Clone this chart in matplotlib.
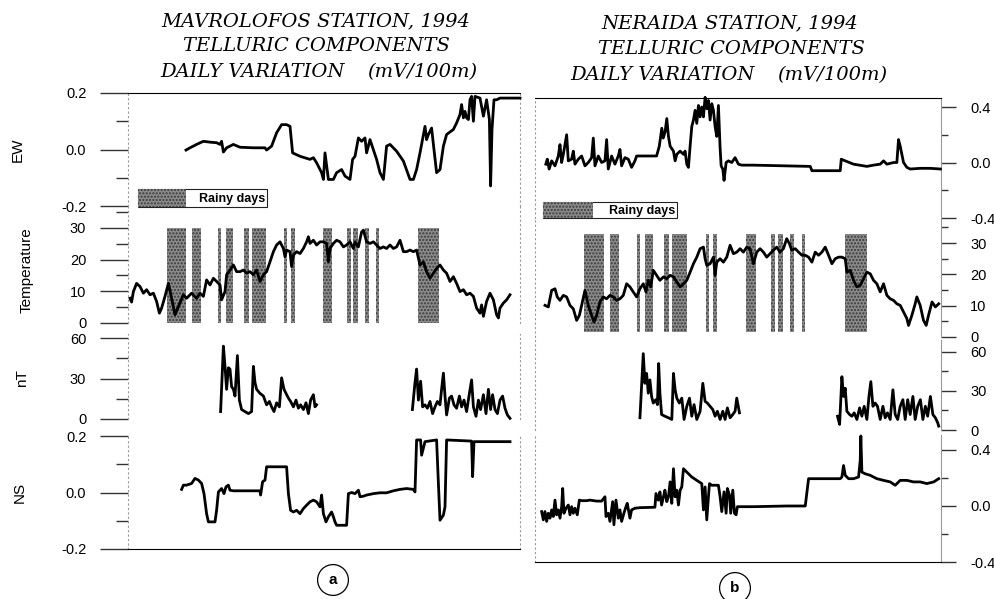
import numpy as np
import matplotlib.pyplot as plt
from matplotlib.patches import Rectangle

W, H = 994, 599
nan = np.nan

# rainy days (day index, same for both stations)
rain_start = [18.5, 31.0, 44.0, 48.0, 57.0, 61.0, 77.0, 80.5, 96.5, 108.5, 111.5, 117.5, 123.0, 144.0]
rain_end = [28.0, 35.5, 45.5, 51.5, 59.5, 68.0, 78.5, 82.5, 101.0, 110.5, 114.0, 119.5, 124.5, 154.5]

# ---- Mavrolofos (a): (day, value) ----
mav_ew = [(28.0, -0.002), (30.0, 0.006), (33.3, 0.018), (36.7, 0.029), (40.0, 0.026), (43.3, 0.024),
          (45.0, 0.018), (45.8, 0.029), (46.7, -0.009), (48.3, 0.006), (51.7, 0.018), (55.0, 0.008),
          (61.7, 0.006), (67.5, 0.006), (68.3, -0.002), (70.8, 0.012), (73.3, 0.059), (75.8, 0.088),
          (78.3, 0.088), (80.0, 0.082), (81.3, -0.012), (85.0, -0.024), (90.0, -0.035), (91.7, -0.029),
          (93.3, -0.047), (95.8, -0.082), (96.7, -0.106), (97.5, -0.012), (99.2, -0.106), (101.7, -0.106),
          (103.3, -0.082), (105.8, -0.071), (107.5, -0.094), (110.0, -0.106), (111.3, -0.035), (112.5, -0.024),
          (114.2, 0.041), (115.8, 0.029), (117.5, 0.041), (118.3, -0.012), (120.0, 0.035), (123.3, -0.035),
          (125.0, -0.082), (126.7, -0.106), (128.3, 0.012), (130.0, 0.018), (133.3, -0.006), (136.7, -0.041),
          (140.0, -0.106), (141.7, -0.106), (143.3, -0.071), (145.0, -0.012), (147.5, 0.082), (148.3, 0.035),
          (149.2, 0.053), (150.8, 0.076), (151.7, 0.018), (153.3, -0.082), (155.0, -0.071), (156.7, 0.012),
          (158.3, 0.053), (161.7, 0.071), (163.3, 0.094), (165.0, 0.124), (165.8, 0.159), (166.7, 0.112),
          (167.5, 0.135), (168.3, 0.112), (169.2, 0.106), (170.0, 0.176), (170.8, 0.188), (171.7, 0.100),
          (172.5, 0.188), (175.0, 0.182), (176.7, 0.118), (178.3, 0.176), (179.7, 0.106), (180.3, -0.129),
          (181.0, 0.071), (182.0, 0.176), (183.3, 0.176), (185.0, 0.182), (195.0, 0.182)]

mav_temp = [(0.0, 7.8), (0.8, 6.6), (1.7, 9.9), (3.3, 12.5), (5.0, 11.5), (6.7, 9.4), (8.3, 10.5), (10.0, 8.9),
            (11.7, 9.4), (13.3, 6.8), (14.7, 3.1), (15.8, 4.7), (17.5, 8.4), (19.2, 12.5), (20.8, 7.8),
            (22.5, 2.6), (24.2, 5.2), (26.7, 8.9), (28.3, 7.8), (30.8, 9.4), (33.3, 7.8), (35.0, 9.4),
            (36.7, 8.4), (38.3, 13.6), (40.0, 12.0), (41.7, 14.1), (43.3, 13.1), (45.0, 12.0), (45.8, 7.3),
            (47.5, 9.9), (48.3, 15.2), (50.0, 16.7), (51.7, 18.3), (53.3, 16.2), (55.0, 16.2), (56.7, 16.7),
            (58.3, 15.7), (60.0, 16.2), (61.7, 15.2), (63.3, 16.7), (65.0, 13.1), (66.7, 15.2), (68.3, 16.2),
            (70.0, 19.3), (71.7, 22.5), (73.3, 24.6), (75.0, 25.6), (76.7, 23.5), (77.5, 20.9), (78.3, 23.0),
            (80.0, 22.5), (80.8, 17.8), (81.7, 21.4), (83.3, 22.5), (85.0, 21.9), (86.7, 23.5), (88.3, 25.6),
            (89.2, 27.2), (90.0, 25.1), (91.7, 26.1), (93.3, 24.6), (95.0, 25.6), (96.7, 25.6), (98.3, 25.1),
            (99.2, 19.3), (100.0, 23.5), (101.7, 25.1), (103.3, 26.1), (105.0, 25.6), (106.7, 24.0),
            (108.3, 24.6), (110.0, 25.6), (111.7, 23.5), (112.5, 25.6), (114.2, 24.0), (115.8, 28.7),
            (116.7, 29.3), (118.3, 25.6), (120.0, 25.1), (121.7, 25.6), (123.3, 24.6), (125.0, 23.5),
            (126.7, 24.0), (128.3, 23.5), (130.0, 24.6), (131.7, 23.5), (133.3, 24.0), (135.0, 26.1),
            (136.7, 22.5), (138.3, 22.5), (140.0, 23.0), (141.7, 22.5), (143.3, 23.0), (145.0, 18.3),
            (146.7, 19.3), (148.3, 16.2), (150.0, 14.1), (151.7, 15.7), (153.3, 17.2), (155.0, 18.3),
            (156.7, 16.7), (158.3, 15.7), (160.0, 13.1), (161.7, 14.6), (163.3, 12.5), (165.0, 9.9),
            (166.7, 10.5), (168.3, 8.9), (170.0, 9.4), (171.7, 8.4), (173.3, 4.7), (175.0, 3.1), (175.8, 5.7),
            (176.7, 2.1), (178.3, 6.8), (180.0, 9.4), (181.7, 7.3), (183.3, 2.6), (184.2, 1.6), (185.0, 4.7),
            (186.7, 6.3), (188.3, 7.3), (190.0, 8.9)]

mav_nt = [(45.3, 5.5), (46.7, 54), (47.5, 39), (48.3, 22), (49.2, 38), (50.0, 37), (50.8, 24), (51.7, 22),
          (52.5, 17), (53.7, 47), (54.7, 14), (55.8, 7), (57.5, 5.5), (59.2, 4), (60.8, 5.5), (61.7, 39),
          (62.5, 27), (63.3, 22), (65.0, 19), (66.7, 17), (68.3, 10.5), (69.7, 13), (70.8, 9), (72.0, 5.5),
          (73.3, 12), (74.7, 9), (75.8, 30.5), (77.0, 22), (78.0, 19), (79.2, 15.5), (80.3, 13), (81.7, 9),
          (83.0, 14), (84.2, 8), (85.3, 10.5), (86.7, 7), (88.0, 12), (89.2, 4), (90.3, 14), (91.7, 18),
          (92.5, 9), (93.3, 10.5), (nan, nan),
          (141.2, 7), (142.5, 27), (143.3, 37), (144.2, 14), (145.3, 28), (146.3, 9), (147.5, 10.5), (148.7, 8),
          (150.0, 13), (151.3, 4), (152.5, 9), (153.7, 13), (155.0, 10.5), (155.8, 22), (156.7, 34), (157.5, 17),
          (158.3, 3), (159.7, 15.5), (160.8, 17), (162.0, 10.5), (163.3, 8), (164.7, 17), (165.8, 9), (167.0, 14),
          (168.3, 5.5), (169.7, 19), (170.8, 29), (171.7, 9), (173.0, 2), (174.2, 14), (175.3, 7), (176.7, 18),
          (178.0, 4), (179.2, 22), (180.3, 7), (181.3, 18), (182.5, 7), (183.7, 4), (185.0, 14), (186.3, 17),
          (187.5, 8), (188.7, 3), (190.0, 0.5)]

mav_ns = [(25.8, 0.011), (26.7, 0.026), (28.3, 0.026), (30.8, 0.032), (32.5, 0.050), (34.2, 0.044),
          (35.8, 0.032), (37.0, -0.004), (38.3, -0.075), (39.2, -0.104), (42.5, -0.104), (43.3, -0.063),
          (44.2, 0.002), (45.8, 0.014), (47.0, -0.004), (48.0, 0.020), (49.2, 0.026), (50.0, 0.008),
          (51.7, 0.006), (65.0, 0.006), (65.3, -0.009), (66.3, 0.038), (67.5, 0.044), (68.3, 0.091),
          (78.3, 0.091), (79.2, -0.004), (80.3, -0.063), (81.7, -0.069), (83.3, -0.063), (85.0, -0.075),
          (86.7, -0.057), (88.3, -0.045), (90.0, -0.033), (91.7, -0.027), (93.3, -0.033), (95.0, -0.051),
          (95.8, -0.009), (96.7, -0.075), (98.0, -0.104), (99.2, -0.086), (100.8, -0.069), (101.7, -0.086),
          (102.5, -0.104), (103.3, -0.116), (108.3, -0.116), (109.2, -0.004), (110.8, 0.0), (112.5, -0.004),
          (114.2, 0.008), (115.0, -0.015), (116.7, -0.013), (118.3, -0.009), (121.7, -0.004), (125.0, -0.001),
          (128.3, -0.001), (131.7, 0.006), (135.0, 0.011), (138.3, 0.014), (141.7, 0.011), (142.5, 0.002),
          (143.3, 0.186), (145.3, 0.186), (145.8, 0.132), (147.5, 0.180), (153.3, 0.186), (154.2, 0.032),
          (155.0, -0.098), (156.7, -0.080), (157.5, -0.051), (158.3, 0.186), (170.8, 0.182), (171.3, 0.056),
          (172.0, 0.180), (190.0, 0.180)]

# ---- Neraida (b) ----
ner_ew = [(0.2, -0.012), (0.9, 0.024), (1.8, -0.047), (3.0, 0.012), (4.6, -0.024), (6.2, 0.047), (7.0, 0.129),
          (7.8, 0.0), (8.6, 0.059), (10.2, 0.2), (11.0, 0.012), (12.6, 0.024), (13.4, 0.082), (14.2, -0.012),
          (15.8, 0.024), (17.4, 0.047), (19.0, -0.024), (20.6, 0.0), (22.2, 0.035), (23.0, 0.176),
          (23.8, -0.024), (25.4, 0.047), (27.0, 0.0), (28.6, 0.012), (29.4, 0.165), (30.2, -0.047),
          (31.8, 0.047), (33.4, -0.012), (35.0, 0.047), (35.8, 0.094), (36.6, -0.024), (38.2, 0.035),
          (39.8, 0.024), (41.4, -0.035), (43.0, 0.012), (43.8, 0.047), (45.4, 0.047), (53.4, 0.047),
          (54.7, 0.118), (55.9, 0.247), (56.6, 0.176), (57.5, 0.223), (58.3, 0.317), (59.1, 0.188),
          (59.9, 0.118), (61.5, 0.082), (62.3, 0.012), (63.1, 0.059), (64.7, 0.082), (66.3, 0.059),
          (67.1, 0.082), (67.9, -0.012), (68.7, -0.035), (69.5, 0.118), (70.3, 0.259), (71.1, 0.306),
          (71.9, 0.376), (72.7, 0.282), (73.5, 0.411), (74.3, 0.329), (75.1, 0.4), (75.9, 0.329), (76.7, 0.47),
          (77.5, 0.388), (78.3, 0.447), (79.1, 0.306), (79.9, 0.424), (80.7, 0.376), (81.5, 0.259),
          (82.3, 0.188), (83.1, 0.411), (83.9, 0.106), (84.4, -0.024), (85.2, -0.047), (85.8, -0.129),
          (86.8, 0.0), (87.9, 0.012), (89.5, 0.0), (91.1, 0.035), (92.7, -0.012), (94.3, -0.019),
          (99.9, -0.019), (127.2, -0.028), (128.0, -0.059), (132.0, -0.059), (141.6, -0.059), (142.1, 0.024),
          (144.0, 0.012), (148.0, -0.012), (154.4, -0.028), (157.6, -0.019), (160.8, -0.012), (162.4, 0.012),
          (164.0, -0.012), (167.2, 0.0), (168.8, 0.0), (169.6, 0.165), (170.4, 0.118), (172.0, 0.0),
          (173.6, -0.035), (175.2, -0.047), (180.0, -0.042), (184.8, -0.042), (189.7, -0.047)]

ner_temp = [(-0.2, 10.1), (1.4, 9.6), (3.0, 14.9), (4.6, 15.4), (5.7, 12.8), (7.0, 11.7), (8.6, 13.3),
            (10.2, 12.8), (11.8, 10.1), (13.4, 9.0), (15.0, 5.3), (16.3, 6.9), (17.4, 10.1), (19.0, 14.9),
            (20.6, 10.1), (22.2, 6.9), (23.3, 4.8), (24.6, 6.9), (26.2, 11.2), (27.8, 12.8), (29.4, 12.2),
            (31.0, 13.3), (32.6, 12.8), (34.2, 11.7), (35.8, 12.2), (37.4, 13.3), (39.0, 17.0), (40.6, 16.0),
            (42.2, 14.4), (43.8, 12.8), (45.4, 15.4), (47.0, 17.0), (48.3, 14.4), (49.4, 18.1), (50.6, 16.0),
            (51.8, 21.3), (53.4, 19.7), (55.0, 18.1), (56.7, 19.2), (58.3, 18.6), (59.9, 19.7), (61.5, 19.2),
            (63.1, 17.6), (64.7, 16.0), (66.3, 17.0), (67.9, 18.1), (69.5, 20.7), (71.1, 23.4), (72.7, 25.5),
            (74.3, 28.2), (75.9, 28.7), (76.7, 25.0), (77.5, 22.9), (79.1, 23.4), (80.7, 25.5), (81.5, 19.7),
            (82.3, 23.9), (83.9, 25.0), (85.5, 23.9), (87.1, 25.5), (88.7, 29.3), (90.3, 26.6), (91.9, 27.1),
            (93.5, 28.2), (95.1, 27.1), (96.7, 28.7), (98.3, 28.2), (99.9, 23.4), (101.5, 27.1), (103.1, 28.2),
            (104.7, 27.1), (106.3, 25.5), (107.9, 26.6), (109.5, 27.7), (111.1, 28.7), (112.7, 27.1),
            (114.3, 28.2), (115.9, 31.4), (117.2, 29.8), (118.3, 27.7), (120.0, 28.2), (121.6, 27.1),
            (123.2, 26.1), (124.8, 26.1), (126.4, 25.5), (128.0, 23.9), (129.6, 27.1), (131.2, 26.1),
            (132.8, 27.1), (134.4, 28.7), (136.0, 26.1), (137.6, 23.4), (139.2, 25.0), (140.8, 25.5),
            (142.4, 25.5), (144.0, 25.0), (144.8, 20.7), (146.4, 21.3), (148.0, 18.1), (149.6, 16.0),
            (151.2, 16.5), (152.8, 18.6), (154.4, 20.7), (156.0, 20.2), (157.6, 18.1), (159.2, 17.0),
            (160.8, 14.4), (162.4, 17.0), (164.0, 13.3), (165.6, 12.2), (167.2, 11.7), (168.8, 10.6),
            (170.4, 10.1), (172.0, 8.0), (173.6, 5.9), (174.4, 3.7), (176.0, 6.9), (177.6, 10.6), (178.4, 12.8),
            (180.0, 10.1), (181.6, 5.3), (182.9, 3.7), (184.0, 6.9), (185.7, 11.2), (187.3, 9.6), (188.9, 10.6)]

ner_nt = [(45.4, 9.4), (47.0, 58.7), (47.8, 35.9), (48.6, 43.5), (49.4, 28.3), (50.2, 38.5), (51.0, 25.8),
          (51.8, 20.7), (53.0, 23.3), (53.8, 19.5), (54.4, 51.1), (55.0, 28.3), (55.8, 11.9), (57.4, 10.6),
          (59.1, 9.4), (60.7, 8.1), (61.5, 43.5), (62.3, 30.9), (63.1, 24.5), (64.3, 20.7), (65.5, 24.5),
          (66.6, 8.1), (67.9, 18.2), (69.2, 24.5), (70.3, 10.6), (71.4, 19.5), (72.7, 8.1), (74.3, 14.4),
          (75.6, 35.9), (76.7, 22.0), (77.8, 20.7), (79.1, 18.2), (80.4, 15.7), (81.5, 10.6), (82.6, 14.4),
          (83.9, 8.1), (85.2, 14.4), (86.3, 8.1), (87.4, 17.0), (88.7, 9.4), (90.0, 11.9), (91.1, 14.4),
          (91.9, 24.5), (93.2, 13.2), (nan, nan),
          (140.3, 10.6), (141.3, 4.3), (142.4, 41.0), (143.2, 25.8), (144.0, 32.1), (144.8, 14.4), (146.1, 11.9),
          (147.2, 10.6), (148.3, 13.2), (149.6, 8.1), (150.9, 17.0), (152.0, 10.6), (153.1, 18.2), (154.4, 8.1),
          (155.4, 25.8), (156.3, 37.2), (157.3, 18.2), (158.4, 20.7), (159.5, 18.2), (160.8, 8.1), (162.1, 18.2),
          (163.2, 9.4), (164.3, 13.2), (165.6, 8.1), (166.9, 30.9), (168.0, 11.9), (169.2, 8.1), (170.4, 18.2),
          (171.7, 23.3), (172.8, 8.1), (174.0, 23.3), (175.2, 11.9), (176.5, 25.8), (177.6, 8.1), (178.8, 18.2),
          (180.1, 23.3), (181.3, 8.1), (182.5, 18.2), (183.6, 10.6), (184.9, 25.8), (186.1, 11.9), (187.3, 9.4),
          (188.4, 5.6), (188.9, 3.0)]

ner_ns = [(-1.8, -0.040), (-1.0, -0.099), (-0.2, -0.040), (0.6, -0.110), (1.4, -0.052), (2.2, -0.087),
          (3.0, -0.028), (3.8, -0.075), (4.6, 0.042), (5.4, -0.063), (6.2, -0.028), (7.0, -0.087),
          (7.8, -0.005), (8.3, 0.125), (8.9, -0.052), (9.9, -0.016), (11.0, 0.007), (11.8, -0.063),
          (12.6, -0.005), (13.4, -0.052), (14.2, -0.016), (15.3, -0.063), (16.3, 0.042), (17.4, 0.038),
          (19.8, 0.038), (21.4, 0.042), (24.6, 0.035), (27.0, 0.035), (28.6, 0.066), (29.1, -0.075),
          (30.2, -0.052), (31.0, -0.110), (32.3, 0.031), (32.9, -0.134), (33.9, 0.042), (35.0, -0.087),
          (35.8, -0.028), (36.6, -0.110), (37.7, -0.052), (38.7, -0.005), (39.3, 0.019), (40.6, -0.087),
          (41.4, -0.028), (43.0, -0.016), (45.4, -0.012), (52.6, -0.009), (53.1, 0.089), (54.2, 0.042),
          (55.0, 0.101), (55.8, 0.007), (56.7, 0.066), (57.4, 0.113), (58.3, 0.031), (59.1, 0.066),
          (59.9, 0.172), (60.7, 0.019), (61.5, 0.266), (62.3, 0.066), (63.1, 0.113), (63.9, 0.007),
          (64.7, 0.113), (65.5, 0.136), (66.3, 0.266), (67.9, 0.242), (70.3, 0.207), (72.7, 0.183),
          (75.1, 0.160), (75.9, -0.028), (76.7, 0.136), (77.5, -0.099), (78.3, 0.066), (78.8, 0.160),
          (79.9, 0.148), (81.5, 0.148), (83.1, 0.148), (83.9, 0.066), (84.7, -0.040), (85.8, 0.101),
          (86.8, -0.052), (87.4, 0.125), (88.4, 0.078), (89.0, -0.052), (90.0, 0.113), (90.8, -0.052),
          (91.6, -0.063), (92.2, -0.005), (99.9, -0.005), (116.0, 0.0), (124.8, 0.0), (126.4, 0.195),
          (132.0, 0.195), (141.6, 0.195), (142.4, 0.207), (143.2, 0.289), (144.0, 0.219), (145.6, 0.195),
          (148.0, 0.195), (150.4, 0.207), (151.2, 0.324), (151.5, 0.5), (152.0, 0.242), (153.6, 0.230),
          (156.0, 0.219), (159.2, 0.195), (162.4, 0.183), (165.6, 0.172), (168.0, 0.148), (170.4, 0.183),
          (173.6, 0.183), (176.8, 0.172), (180.0, 0.172), (183.2, 0.160), (186.5, 0.172), (188.9, 0.195)]

plt.rcParams['font.family'] = ['Liberation Sans', 'DejaVu Sans']

fig = plt.figure(figsize=(W / 100, H / 100), dpi=100)


def px_axes(x0, y0, x1, y1):
    # pixel box (top-left origin) -> figure axes
    return fig.add_axes([x0 / W, 1 - y1 / H, (x1 - x0) / W, (y1 - y0) / H])


def fig_text(x, y, s, **kw):
    fig.text(x / W, 1 - y / H, s, **kw)


def setup(ax, xlim, ylim, major, labels, minor, side):
    ax.set_xlim(xlim)
    ax.set_ylim(ylim)
    ax.patch.set_alpha(0)
    ax.set_xticks([])
    ax.set_yticks(major)
    ax.set_yticklabels(labels)
    ax.set_yticks(minor, minor=True)
    for s in ['top', 'bottom']:
        ax.spines[s].set_visible(False)
    for s in ['left', 'right']:
        ax.spines[s].set_linestyle((0, (1, 3)))
        ax.spines[s].set_color('#999999')
        ax.spines[s].set_linewidth(0.8)
    if side == 'left':
        ax.yaxis.tick_left()
        ax.tick_params(axis='y', which='major', length=20, width=1.0, pad=10, labelsize=10.5, color='#333333')
        ax.tick_params(axis='y', which='minor', length=9, width=1.0, color='#333333')
    else:
        ax.yaxis.tick_right()
        ax.spines['right'].set_linestyle('-')
        ax.tick_params(axis='y', which='major', length=11, width=1.0, pad=10, labelsize=10.5, color='#333333')
        ax.tick_params(axis='y', which='minor', length=5, width=1.0, color='#333333')


def trace(ax, pts):
    a = np.array(pts, dtype=float)
    ax.plot(a[:, 0], a[:, 1], color='black', lw=2.0, zorder=3, clip_on=False)


def rain(ax, lo, hi):
    for s, e in zip(rain_start, rain_end):
        ax.bar(s, hi - lo, width=e - s, bottom=lo, align='edge', color='#8a8a8a',
               edgecolor='#3a3a3a', hatch='.....', linewidth=0, zorder=1)


def rain_key(x0, y0, w_fill, w, h):
    fig.add_artist(Rectangle((x0 / W, 1 - (y0 + h) / H), w / W, h / H, transform=fig.transFigure,
                             facecolor='white', edgecolor='#222222', linewidth=0.8))
    fig.add_artist(Rectangle((x0 / W, 1 - (y0 + h) / H), w_fill / W, h / H, transform=fig.transFigure,
                             facecolor='#8a8a8a', edgecolor='#3a3a3a', hatch='.....', linewidth=0))
    fig_text(x0 + w - 2, y0 + h / 2 + 1, 'Rainy days', ha='right', va='center', fontsize=9, fontweight='bold')


# ---------------- panel a ----------------
xa = (-1, 195)
ax1 = px_axes(128, 93, 520, 206)
setup(ax1, xa, (-0.2, 0.2), [-0.2, 0.0, 0.2], ['-0.2', '0.0', '0.2'], [-0.1, 0.1], 'left')
ax1.spines['top'].set_visible(True)
trace(ax1, mav_ew)

ax2 = px_axes(128, 206, 520, 323)
setup(ax2, xa, (0, 36.9), [0, 10, 20, 30], ['0', '10', '20', '30'], [5, 15, 25, 35], 'left')
rain(ax2, -0.5, 30)
trace(ax2, mav_temp)

ax3 = px_axes(128, 334, 520, 419)
setup(ax3, xa, (0, 63), [0, 30, 60], ['0', '30', '60'], [15, 45], 'left')
trace(ax3, mav_nt)

ax4 = px_axes(128, 436, 520, 549)
setup(ax4, xa, (-0.2, 0.2), [-0.2, 0.0, 0.2], ['-0.2', '0.0', '0.2'], [-0.1, 0.1], 'left')
ax4.spines['bottom'].set_visible(True)
trace(ax4, mav_ns)

# ---------------- panel b ----------------
xb = (-5, 190)
bx1 = px_axes(535, 98, 941, 218)
setup(bx1, xb, (-0.4, 0.465), [-0.4, 0.0, 0.4], ['-0.4', '0.0', '0.4'], [-0.2, 0.2], 'right')
bx1.spines['top'].set_visible(True)
trace(bx1, ner_ew)

bx2 = px_axes(535, 218, 941, 337)
setup(bx2, xb, (0, 38), [0, 10, 20, 30], ['0', '10', '20', '30'], [5, 15, 25, 35], 'right')
rain(bx2, 1.5, 33)
trace(bx2, ner_temp)

bx3 = px_axes(535, 340, 941, 430)
setup(bx3, xb, (0, 69.2), [0, 30, 60], ['0', '30', '60'], [15, 45], 'right')
trace(bx3, ner_nt)

bx4 = px_axes(535, 435, 941, 562)
setup(bx4, xb, (-0.4, 0.507), [-0.4, 0.0, 0.4], ['-0.4', '0.0', '0.4'], [-0.2, 0.2], 'right')
bx4.spines['bottom'].set_visible(True)
trace(bx4, ner_ns)

# keys
rain_key(138, 189, 48, 129, 18)
rain_key(543, 202, 50, 134, 16)

# y labels (left side only)
fig_text(18, 150, 'EW', rotation=90, ha='center', va='center', fontsize=11)
fig_text(27, 270, 'Temperature', rotation=90, ha='center', va='center', fontsize=11)
fig_text(22, 378, 'nT', rotation=90, ha='center', va='center', fontsize=11)
fig_text(20, 492, 'NS', rotation=90, ha='center', va='center', fontsize=11)

# titles
tkw = dict(family='DejaVu Serif', style='italic', fontsize=14, va='center')
fig_text(316, 21, 'MAVROLOFOS STATION, 1994', ha='center', **tkw)
fig_text(316, 46, 'TELLURIC COMPONENTS', ha='center', **tkw)
fig_text(160, 72, 'DAILY VARIATION', ha='left', **tkw)
fig_text(477, 72, '(mV/100m)', ha='right', **tkw)

fig_text(730, 23, 'NERAIDA STATION, 1994', ha='center', **tkw)
fig_text(731, 49, 'TELLURIC COMPONENTS', ha='center', **tkw)
fig_text(570, 75, 'DAILY VARIATION', ha='left', **tkw)
fig_text(887, 75, '(mV/100m)', ha='right', **tkw)

# panel letters
ckw = dict(ha='center', va='center', fontsize=11, fontweight='bold',
           bbox=dict(boxstyle='circle,pad=0.55', facecolor='white', edgecolor='black', linewidth=0.9))
fig_text(333, 580, 'a', **ckw)
fig_text(735, 588, 'b', **ckw)

fig.savefig('out.png', dpi=100)
